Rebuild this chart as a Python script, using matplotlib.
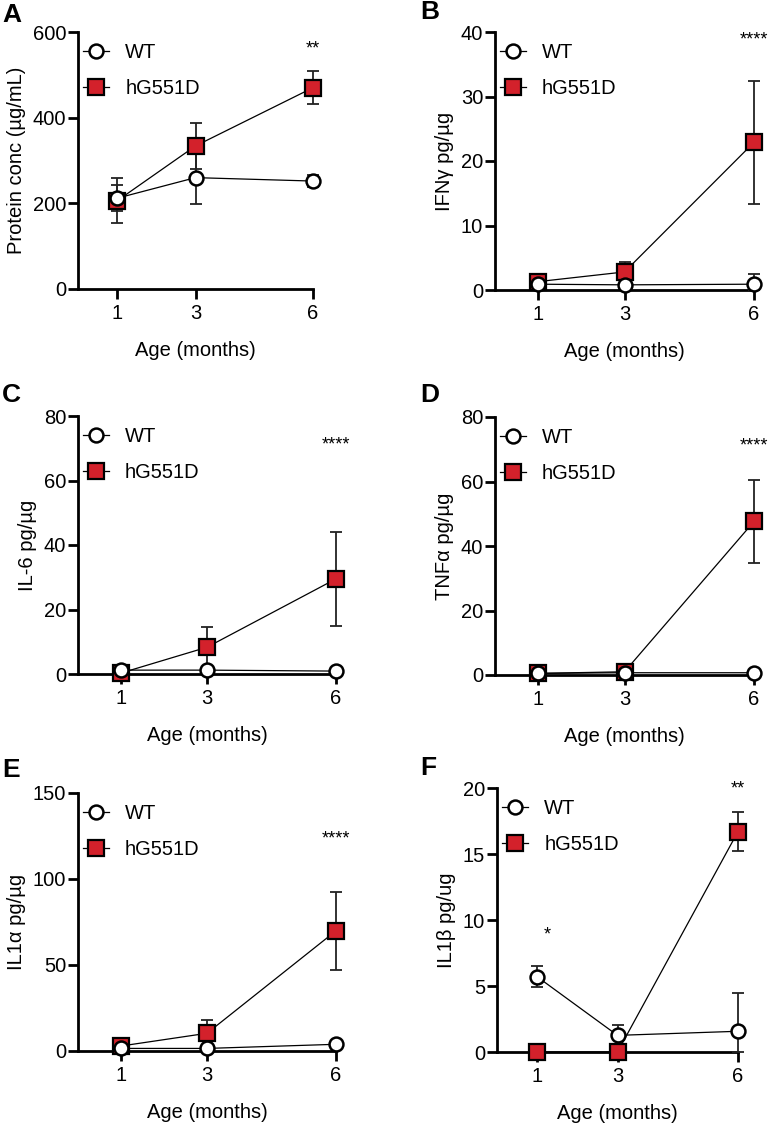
import numpy as np
import matplotlib
matplotlib.use("Agg")
import matplotlib.pyplot as plt

plt.rcParams['font.family'] = ['Liberation Sans', 'DejaVu Sans']

months = [1, 3, 6]
groups = ["WT", "hG551D"]

# panel A - protein conc
a_wt = [212, 260, 252]
a_wt_err = [30, 61, 14]
a_hg = [206, 334, 470]
a_hg_err = [52, 53, 38]

# panel B - IFNg
b_wt = [0.9, 0.8, 0.9]
b_wt_err = [0.3, 0.3, 1.6]
b_hg = [1.3, 2.8, 22.9]
b_hg_err = [0.4, 1.5, 9.5]

# panel C - IL-6
c_wt = [1.2, 1.2, 0.9]
c_wt_err = [0.5, 0.5, 0.3]
c_hg = [0.3, 8.3, 29.5]
c_hg_err = [0.5, 6.4, 14.5]

# panel D - TNFa
d_wt = [0.5, 0.7, 0.7]
d_wt_err = [0.3, 0.3, 0.3]
d_hg = [0.5, 1.0, 47.6]
d_hg_err = [0.5, 0.5, 13.0]

# panel E - IL1a
e_wt = [1.5, 1.5, 3.9]
e_wt_err = [0.8, 2.0, 0.8]
e_hg = [2.9, 10.3, 69.9]
e_hg_err = [1.5, 7.7, 22.7]

# panel F - IL1b
f_wt = [5.7, 1.26, 1.57]
f_wt_err = [0.8, 0.8, 2.9]
f_hg = [0.0, 0.0, 16.7]
f_hg_err = [0.6, 0.0, 1.5]

W, H = 771, 1124
red = '#d3212b'

def rect(l, r, t, b):
    return [l / W, 1 - b / H, (r - l) / W, (b - t) / H]

panels = [
    dict(letter="A", box=(78, 313, 32, 289), lpos=(2, 15),
         wt=a_wt, wte=a_wt_err, hg=a_hg, hge=a_hg_err,
         ymax=600, yticks=[0, 200, 400, 600],
         ylabel="Protein conc (\u00b5g/mL)", stars=[(6, 561, "**")]),
    dict(letter="B", box=(495, 754, 32, 290), lpos=(420, 12),
         wt=b_wt, wte=b_wt_err, hg=b_hg, hge=b_hg_err,
         ymax=40, yticks=[0, 10, 20, 30, 40],
         ylabel="IFN\u03b3 pg/\u00b5g", stars=[(6, 38.8, "****")]),
    dict(letter="C", box=(78, 336, 416, 674), lpos=(2, 395),
         wt=c_wt, wte=c_wt_err, hg=c_hg, hge=c_hg_err,
         ymax=80, yticks=[0, 20, 40, 60, 80],
         ylabel="IL-6 pg/\u00b5g", stars=[(6, 70.9, "****")]),
    dict(letter="D", box=(495, 754, 417, 675), lpos=(420, 395),
         wt=d_wt, wte=d_wt_err, hg=d_hg, hge=d_hg_err,
         ymax=80, yticks=[0, 20, 40, 60, 80],
         ylabel="TNF\u03b1 pg/\u00b5g", stars=[(6, 71, "****")]),
    dict(letter="E", box=(78, 336, 793, 1051), lpos=(2, 770),
         wt=e_wt, wte=e_wt_err, hg=e_hg, hge=e_hg_err,
         ymax=150, yticks=[0, 50, 100, 150],
         ylabel="IL1\u03b1 pg/\u00b5g", stars=[(6, 123, "****")]),
    dict(letter="F", box=(497, 738, 788, 1052), lpos=(420, 768),
         wt=f_wt, wte=f_wt_err, hg=f_hg, hge=f_hg_err,
         ymax=20, yticks=[0, 5, 10, 15, 20],
         ylabel="IL1\u03b2 pg/ug", stars=[(1.25, 8.9, "*"), (6, 19.9, "**")]),
]

fig = plt.figure(figsize=(W / 100, H / 100), dpi=100)

for p in panels:
    ax = fig.add_axes(rect(*p["box"]))
    x = np.array(months)
    for vals, errs, z in [(p["hg"], p["hge"], 3), (p["wt"], p["wte"], 4)]:
        vals = np.array(vals, float)
        errs = np.array(errs, float)
        lower = np.minimum(errs, vals)
        ax.errorbar(x, vals, yerr=[lower, errs], fmt='none', ecolor='#222222',
                    elinewidth=1.3, capsize=4.3, capthick=1.3, zorder=z, clip_on=False)
    h_hg, = ax.plot(x, p["hg"], '-', color='black', lw=0.9, marker='s', ms=11,
                    mfc=red, mec='black', mew=1.6, zorder=5, clip_on=False)
    h_wt, = ax.plot(x, p["wt"], '-', color='black', lw=0.9, marker='o', ms=10,
                    mfc='white', mec='black', mew=1.8, zorder=6, clip_on=False)

    ax.set_xlim(0, 6)
    ax.set_ylim(0, p["ymax"])
    ax.set_xticks(months)
    ax.set_yticks(p["yticks"])
    for s in ['top', 'right']:
        ax.spines[s].set_visible(False)
    for s in ['left', 'bottom']:
        ax.spines[s].set_linewidth(2)
    ax.tick_params(width=2, length=7, labelsize=14.5)
    ax.tick_params(axis='y', pad=1.5)
    ax.tick_params(axis='x', pad=4)
    ax.set_xlabel("Age (months)", fontsize=14.5, labelpad=13)
    ax.set_ylabel(p["ylabel"], fontsize=14.5, labelpad=5)

    for sx, sy, st in p["stars"]:
        ax.text(sx, sy, st, ha='center', va='center', fontsize=13)

    ax.legend([h_wt, h_hg], groups, loc='upper left', bbox_to_anchor=(-0.005, 0.98),
              frameon=False, fontsize=14.5, handlelength=1.3, handletextpad=0.8,
              labelspacing=0.85, borderaxespad=0.1, borderpad=0.2)

    lx, ly = p["lpos"]
    fig.text(lx / W, 1 - ly / H, p["letter"], fontsize=19, fontweight='bold',
             ha='left', va='center')

fig.savefig("out.png", dpi=100)
